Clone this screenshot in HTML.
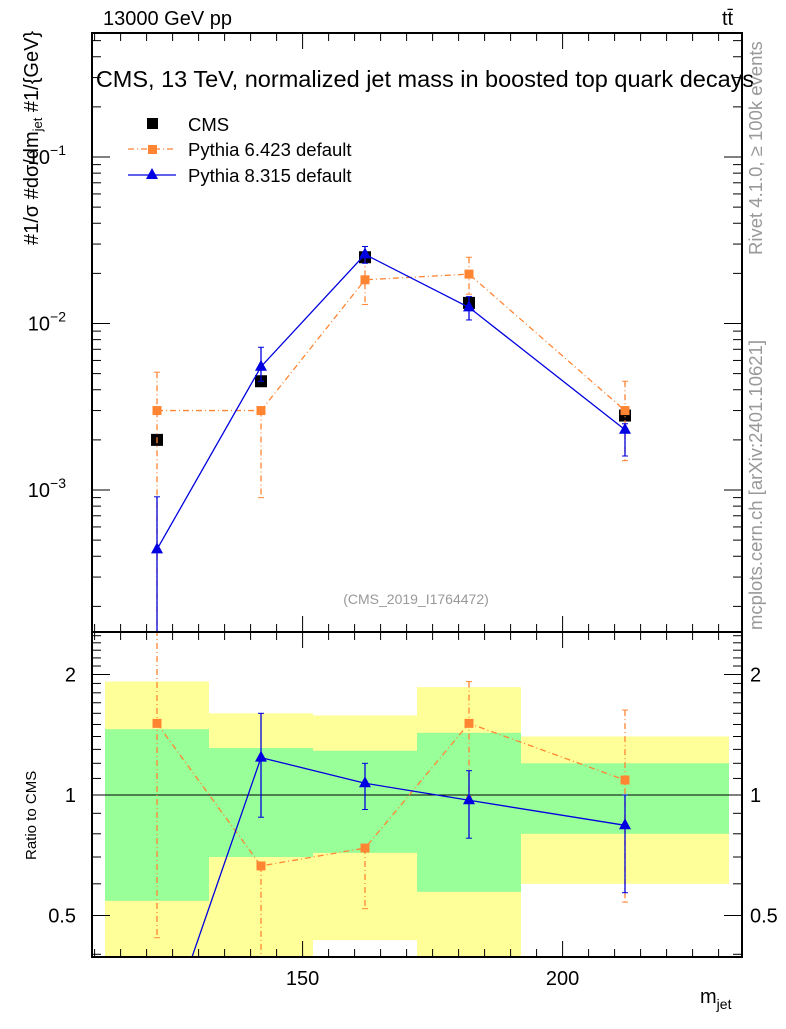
<!DOCTYPE html>
<html><head><meta charset="utf-8"><style>
body{margin:0;background:#fff}
svg{font-family:"Liberation Sans",sans-serif}
</style></head><body>
<svg id="c" width="786" height="1024" xmlns="http://www.w3.org/2000/svg"></svg>
<script>
const bins=[112,132,152,172,192,232];
const centers=[122,142,162,182,212];
const cmsVals=[0.0020,0.0045,0.025,0.0133,0.0028];
const p6Vals=[0.0030,0.0030,0.0183,0.0198,0.0030];
const p6Up=[0.0051,0.0030,0.025,0.025,0.0045];
const p6Dn=[0.0001,0.0009,0.013,0.015,0.0015];
const p8Vals=[0.00044,0.0055,0.026,0.0125,0.0023];
const p8Up=[0.00091,0.0072,0.029,0.0145,0.0025];
const p8Dn=[0.00005,0.0045,0.023,0.0105,0.0016];
const yelHi=[1.92,1.60,1.58,1.86,1.40];
const yelLo=[0.3,0.3,0.434,0.3,0.60];
const grnHi=[1.46,1.31,1.29,1.43,1.20];
const grnLo=[0.544,0.70,0.717,0.573,0.80];
const r6=[1.51,0.665,0.737,1.51,1.09];
const r6Up=[3.0,0.665,0.737,1.92,1.63];
const r6Dn=[0.44,0.3,0.52,0.99,0.54];
const r8=[0.22,1.24,1.07,0.97,0.84];
const r8Up=[0.22,1.60,1.20,1.15,1.0];
const r8Dn=[0.22,0.88,0.92,0.78,0.57];
const xTicks=[150,200];
const ratioTicks=[0.5,1,2];

const NS="http://www.w3.org/2000/svg";
const svg=document.getElementById('c');
const L=92,R=742,T=33,M=632,B=957;
const X=v=>L+(v-109.5)*5.2;
const Y=v=>157-(Math.log10(v)+1)*166.5;
const YR=v=>795-Math.log2(v)*120.5;
function el(t,a,p){const e=document.createElementNS(NS,t);for(const k in a)e.setAttribute(k,a[k]);(p||svg).appendChild(e);return e;}
const clipM=el('clipPath',{id:'cm'});el('rect',{x:L,y:T,width:R-L,height:M-T},clipM);
const clipR=el('clipPath',{id:'cr'});el('rect',{x:L,y:M,width:R-L,height:B-M},clipR);
const gM=el('g',{'clip-path':'url(#cm)'});


const gR=el('g',{'clip-path':'url(#cr)'});



for(let i=0;i<5;i++){
 const x0=X(bins[i]),x1=X(bins[i+1]);
 const y=el('rect',{x:x0,y:YR(yelHi[i]),width:x1-x0,height:YR(yelLo[i])-YR(yelHi[i]),fill:'#ffff99'},gR);
 
 
 const g=el('rect',{x:x0,y:YR(grnHi[i]),width:x1-x0,height:YR(grnLo[i])-YR(grnHi[i]),fill:'#99ff99'},gR);
 
 
}
el('line',{x1:L,x2:R,y1:YR(1),y2:YR(1),stroke:'#000','stroke-width':1},gR);

function series(g,vals,up,dn,yf,color,dash,marker,name){
 const pts=centers.map((c,i)=>X(c)+','+yf(vals[i])).join(' ');
 const pl=el('polyline',{points:pts,fill:'none',stroke:color,'stroke-width':1.3,'stroke-dasharray':dash||'none'},g);
 
 
 centers.forEach((c,i)=>{
  const x=X(c);
  el('line',{x1:x,x2:x,y1:yf(up[i]),y2:yf(dn[i]),stroke:color,'stroke-width':1.3,'stroke-dasharray':dash||'none'},g);
  el('line',{x1:x-3,x2:x+3,y1:yf(up[i]),y2:yf(up[i]),stroke:color},g);
  el('line',{x1:x-3,x2:x+3,y1:yf(dn[i]),y2:yf(dn[i]),stroke:color},g);
  const y=yf(vals[i]);let m;
  if(marker==='sqs')m=el('rect',{x:x-4.5,y:y-4.5,width:9,height:9,fill:color},g);
  else m=el('polygon',{points:`${x},${y-7} ${x-6},${y+4} ${x+6},${y+4}`,fill:color},g);
  
  
 });
}
centers.forEach((c,i)=>{const m=el('rect',{x:X(c)-6,y:Y(cmsVals[i])-6,width:12,height:12,fill:'#000'},gM);
 
 });
series(gM,p6Vals,p6Up,p6Dn,Y,'#ff8533','6,3,1,3','sqs','pythia6');
series(gM,p8Vals,p8Up,p8Dn,Y,'#0000e0',null,'tri','pythia8');
series(gR,r6,r6Up,r6Dn,YR,'#ff8533','6,3,1,3','sqs','pythia6-ratio');
series(gR,r8,r8Up,r8Dn,YR,'#0000e0',null,'tri','pythia8-ratio');

const f1=el('rect',{x:L,y:T,width:R-L,height:M-T,fill:'none',stroke:'#000','stroke-width':2});

const f2=el('rect',{x:L,y:M,width:R-L,height:B-M,fill:'none',stroke:'#000','stroke-width':2});


for(let v=110;v<=234;v+=5){const x=X(v);const big=v%50===0;const h=big?16:8;
 [T,M].forEach(y0=>el('line',{x1:x,x2:x,y1:y0,y2:y0+h,stroke:'#000'}));
 [M,B].forEach(y0=>el('line',{x1:x,x2:x,y1:y0,y2:y0-h,stroke:'#000'}));}
xTicks.forEach(v=>{const t=el('text',{x:X(v),y:985,'font-size':20,'text-anchor':'middle'});t.textContent=v;
 });
for(let d=-4;d<=-1;d++)for(let k=1;k<10;k++){const v=k*Math.pow(10,d);const y=Y(v);if(y<T||y>M)continue;
 const h=k===1?18:9;el('line',{x1:L,x2:L+h,y1:y,y2:y,stroke:'#000'});el('line',{x1:R,x2:R-h,y1:y,y2:y,stroke:'#000'});}
[-1,-2,-3].forEach(d=>{const t=el('text',{x:66,y:Y(Math.pow(10,d))+7,'font-size':20,'text-anchor':'end'});
 t.textContent='10';const s=el('tspan',{dy:-9,'font-size':14},t);s.textContent='\u2212'+(-d);
 });
for(let v=0.4;v<=2.5;v=+(v+0.1).toFixed(1)){const y=YR(v);if(y<M||y>B)continue;const big=[0.5,1,2].includes(v);const h=big?18:9;
 el('line',{x1:L,x2:L+h,y1:y,y2:y,stroke:'#000'});el('line',{x1:R,x2:R-h,y1:y,y2:y,stroke:'#000'});}
ratioTicks.forEach(v=>{const a=el('text',{x:76,y:YR(v)+7,'font-size':20,'text-anchor':'end'});a.textContent=v;
 
 const b=el('text',{x:750,y:YR(v)+7,'font-size':20});b.textContent=v;
 });
</script>
<svg width="786" height="1024" style="position:absolute;left:0;top:0" xmlns="http://www.w3.org/2000/svg" font-family="Liberation Sans, sans-serif">
<text x="103" y="25" font-size="20">13000 GeV pp</text>
<text x="722" y="25" font-size="20">tt̄</text>
<text x="425" y="87" font-size="23.5" text-anchor="middle">CMS, 13 TeV, normalized jet mass in boosted top quark decays</text>
<g>
<rect x="147" y="118" width="11" height="11" fill="#000"/>
<text x="188" y="131" font-size="18.5">CMS</text>
<line x1="128" x2="176" y1="149" y2="149" stroke="#ff8533" stroke-width="1.3" stroke-dasharray="6,3,1,3"/>
<rect x="148" y="145" width="9" height="9" fill="#ff8533"/>
<text x="188" y="156" font-size="18.5">Pythia 6.423 default</text>
<line x1="128" x2="176" y1="175" y2="175" stroke="#0000e0" stroke-width="1.3"/>
<polygon points="152,168 146,179 158,179" fill="#0000e0"/>
<text x="188" y="182" font-size="18.5">Pythia 8.315 default</text>
</g>
<text x="416" y="604" font-size="14" fill="#999" text-anchor="middle">(CMS_2019_I1764472)</text>
<text transform="translate(762,255) rotate(-90)" font-size="18.5" fill="#999">Rivet 4.1.0, ≥ 100k events</text>
<text transform="translate(762,630) rotate(-90)" font-size="18.5" fill="#999">mcplots.cern.ch [arXiv:2401.10621]</text>
<text transform="translate(36,860) rotate(-90)" font-size="15">Ratio to CMS</text>
<text transform="translate(38,245) rotate(-90)" font-size="20">#1/σ #dσ/dm<tspan font-size="13" dy="4">jet</tspan><tspan dy="-4"> #1/{GeV}</tspan></text>
<text x="700" y="1003" font-size="20">m<tspan font-size="14" dy="6">jet</tspan></text>
</svg>
</body></html>
